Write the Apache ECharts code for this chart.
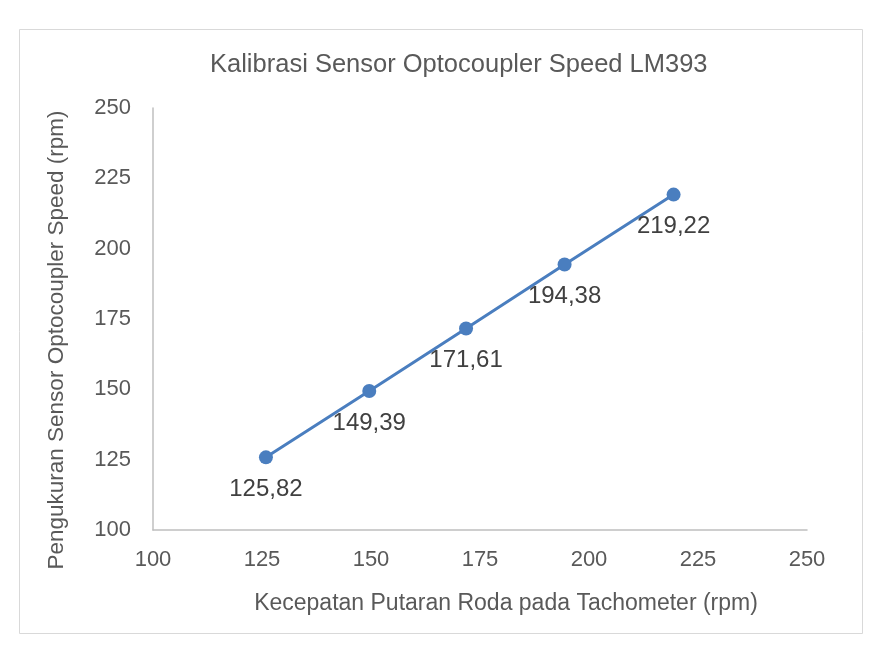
<!DOCTYPE html>
<html>
<head>
<meta charset="utf-8">
<script src="https://cdn.jsdelivr.net/npm/echarts@6/dist/echarts.min.js"></script>
<style>html,body{margin:0;padding:0;background:#fff}#c{width:877px;height:653px}</style>
</head>
<body>
<div id="c"></div>
<script>
var titleText = 'Kalibrasi Sensor Optocoupler Speed LM393';
var xName = 'Kecepatan Putaran Roda pada Tachometer (rpm)';
var yName = 'Pengukuran Sensor Optocoupler Speed (rpm)';
var tachometer = [125.9, 149.6, 171.8, 194.4, 219.4];
var sensor = [125.82, 149.39, 171.61, 194.38, 219.22];
var axisMin = 100, axisMax = 250, axisStep = 25;

var data = tachometer.map(function (x, i) { return [x, sensor[i]]; });
var font = 'Liberation Sans';
var txt = '#595959';
var chart = echarts.init(document.getElementById('c'));
chart.setOption({
  backgroundColor: '#fff',
  animation: false,
  graphic: [{
    type: 'rect', left: 17, top: 27,
    shape: { width: 843, height: 604 },
    style: { fill: 'none', stroke: '#d9d9d9', lineWidth: 1 }
  }],
  title: {
    text: titleText, left: 205, top: 47,
    textStyle: { fontFamily: font, fontSize: 25.5, fontWeight: 'normal', color: txt }
  },
  grid: { left: 153, right: 70, top: 108, bottom: 123 },
  xAxis: {
    type: 'value', min: axisMin, max: axisMax, interval: axisStep,
    name: xName, nameLocation: 'middle', nameGap: 62,
    nameTextStyle: { fontFamily: font, fontSize: 23, color: txt, padding: [0, 0, 0, 52] },
    axisLine: { show: true, lineStyle: { color: '#bfbfbf', width: 1.5 } },
    axisTick: { show: false },
    splitLine: { show: false },
    axisLabel: { margin: 19, fontFamily: font, fontSize: 22, color: txt }
  },
  yAxis: {
    type: 'value', min: axisMin, max: axisMax, interval: axisStep,
    name: yName, nameLocation: 'middle', nameGap: 85,
    nameTextStyle: { fontFamily: font, fontSize: 22.5, color: txt, padding: [0, 42, 0, 0] },
    axisLine: { show: true, lineStyle: { color: '#bfbfbf', width: 1.5 } },
    axisTick: { show: false },
    splitLine: { show: false },
    axisLabel: { margin: 22, fontFamily: font, fontSize: 22, color: txt }
  },
  series: [{
    type: 'line', data: data,
    symbol: 'circle', symbolSize: 14,
    lineStyle: { color: '#4a7ebf', width: 3 },
    itemStyle: { color: '#4a7ebf' },
    label: {
      show: true, position: 'bottom', distance: 13,
      fontFamily: font, fontSize: 24, color: '#404040',
      formatter: function (p) { return p.value[1].toFixed(2).replace('.', ','); }
    }
  }]
});
</script>
</body>
</html>
